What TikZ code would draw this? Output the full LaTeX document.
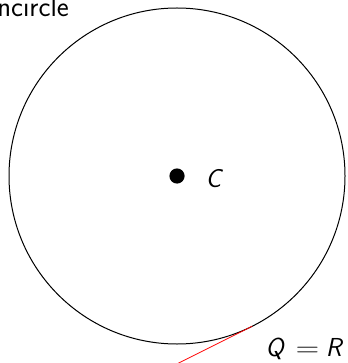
\documentclass[tikz,border=0pt]{standalone}
\usepackage{fontspec}
\usetikzlibrary{calc}
\begin{document}
\begin{tikzpicture}[x=1pt,y=-1pt,
  lbl/.style={inner sep=0pt,font=\fontsize{26}{30}\selectfont\sffamily},
  ttl/.style={inner sep=0pt,font=\fontsize{28.5}{33}\selectfont\sffamily}]
\clip (0,0) rectangle (347,363);
\useasboundingbox (0,0) rectangle (347,363);
\coordinate (C) at (177,176);
\draw[line width=1pt] (C) circle[radius=168];
\fill (C) circle[radius=7.6];
\node[lbl,anchor=base west] (Clbl) at (205.5,187.5) {\itshape C};
\coordinate (Q) at ($(C)+(63.4:168)$);
\coordinate (T) at ($(Q)+(153.4:110)$);
\draw[red,line width=0.8pt] (Q) -- (T);
\node[lbl,anchor=base west] (QR) at (265.5,356.5) {\itshape Q\hspace{12pt}\upshape\scalebox{1.25}[1]{=}\hspace{6.5pt}\itshape R};
\node[ttl,anchor=base east] (title) at (69,17) {Incircle};
\end{tikzpicture}
\end{document}
